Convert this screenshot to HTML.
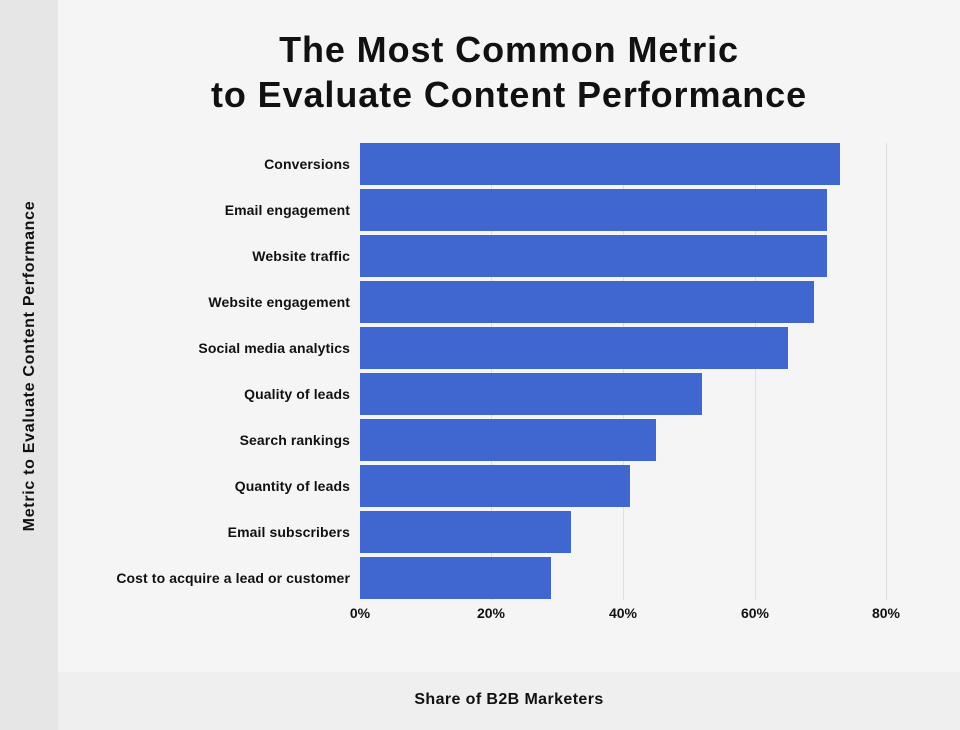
<!DOCTYPE html>
<html><head><meta charset="utf-8"><style>
body{margin:0;width:960px;height:730px;background:#f5f5f5;font-family:"Liberation Sans",sans-serif;position:relative;overflow:hidden;color:#111}
.l{position:absolute;left:0;top:0;width:58px;height:730px;background:#e6e6e6}
.b{position:absolute;left:58px;top:672px;width:902px;height:58px;background:#efefef}
.t{position:absolute;left:58px;width:902px;text-align:center;font-weight:bold;font-size:36px;letter-spacing:0.9px}
.g{position:absolute;top:143px;height:457px;width:1px;background:#dedede}
.bar{position:absolute;left:360px;height:42px;background:#4066d0}
.lab{position:absolute;right:610px;font-size:14px;font-weight:bold;line-height:42px;white-space:nowrap;letter-spacing:0.1px}
.tk{position:absolute;top:605px;font-size:14px;font-weight:bold;width:60px;margin-left:-30px;text-align:center}
</style></head><body>
<div class="l"></div><div class="b"></div>
<div class="t" style="top:29px">The Most Common Metric</div>
<div class="t" style="top:74px">to Evaluate Content Performance</div>
<div class="g" style="left:491px"></div><div class="g" style="left:623px"></div><div class="g" style="left:755px"></div><div class="g" style="left:886px"></div>
<div class="bar" style="top:143px;width:480px"></div><div class="lab" style="top:143px">Conversions</div>
<div class="bar" style="top:189px;width:467px"></div><div class="lab" style="top:189px">Email engagement</div>
<div class="bar" style="top:235px;width:467px"></div><div class="lab" style="top:235px">Website traffic</div>
<div class="bar" style="top:281px;width:454px"></div><div class="lab" style="top:281px">Website engagement</div>
<div class="bar" style="top:327px;width:428px"></div><div class="lab" style="top:327px">Social media analytics</div>
<div class="bar" style="top:373px;width:342px"></div><div class="lab" style="top:373px">Quality of leads</div>
<div class="bar" style="top:419px;width:296px"></div><div class="lab" style="top:419px">Search rankings</div>
<div class="bar" style="top:465px;width:270px"></div><div class="lab" style="top:465px">Quantity of leads</div>
<div class="bar" style="top:511px;width:211px"></div><div class="lab" style="top:511px">Email subscribers</div>
<div class="bar" style="top:557px;width:191px"></div><div class="lab" style="top:557px">Cost to acquire a lead or customer</div>
<div class="tk" style="left:360px">0%</div><div class="tk" style="left:491px">20%</div><div class="tk" style="left:623px">40%</div><div class="tk" style="left:755px">60%</div><div class="tk" style="left:886px">80%</div>
<div style="position:absolute;left:58px;width:902px;top:691px;text-align:center;font-size:16px;font-weight:bold;letter-spacing:0.4px">Share of B2B Marketers</div>
<div style="position:absolute;left:30px;top:366px;transform:translate(-50%,-50%) rotate(-90deg);font-size:16px;font-weight:bold;letter-spacing:0.7px;white-space:nowrap">Metric to Evaluate Content Performance</div>
</body></html>
